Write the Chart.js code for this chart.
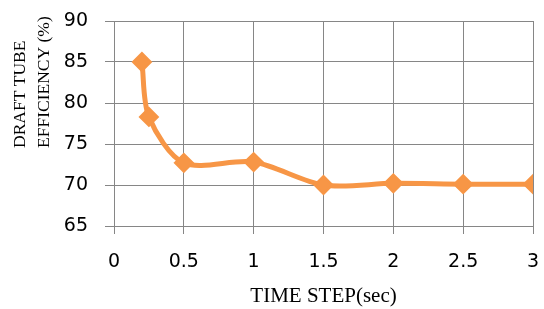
<!DOCTYPE html>
<html>
<head>
<meta charset="utf-8">
<script src="https://cdn.jsdelivr.net/npm/chart.js@4/dist/chart.umd.min.js"></script>
<style>
    html, body { margin: 0; padding: 0; background: #fff; }
    #box { width: 544px; height: 309px; }
</style>
</head>
<body>
<div id="box"><canvas id="myChart" width="544" height="309"></canvas></div>
<script>
// data
var timeStep = [0.2, 0.25, 0.5, 1, 1.5, 2, 2.5, 3];
var efficiency = [85, 78.3, 72.7, 72.8, 70.0, 70.2, 70.1, 70.1];
var xTicks = [0, 0.5, 1, 1.5, 2, 2.5, 3];
var yTicks = [65, 70, 75, 80, 85, 90];
var xTitle = "TIME STEP(sec)";
var yTitle = ["DRAFT TUBE", "EFFICIENCY (%)"];

var gridColor = "#868686";
var lineColor = "#F79646";

// y axis title drawn by hand so both lines start at the same height
var yTitlePlugin = {
    id: "yTitle",
    afterDraw: function (chart) {
        var ctx = chart.ctx;
        ctx.save();
        ctx.fillStyle = "#000";
        ctx.font = "17.5px 'Liberation Serif'";
        ctx.textAlign = "left";
        ctx.textBaseline = "middle";
        var xs = [20, 44];
        for (var i = 0; i < yTitle.length; i++) {
            ctx.save();
            ctx.translate(xs[i], 148);
            ctx.rotate(-Math.PI / 2);
            ctx.fillText(yTitle[i], 0, 0);
            ctx.restore();
        }
        ctx.restore();
    }
};

// no extra room for overflowing tick labels, layout padding does it
function noPad(axis) {
    axis.paddingTop = 0;
    axis.paddingBottom = 0;
    axis.paddingLeft = 0;
    axis.paddingRight = 0;
}

function setChart() {
    var points = [];
    for (var i = 0; i < timeStep.length; i++) {
        points.push({x: timeStep[i], y: efficiency[i]});
    }
    var ctx = document.getElementById("myChart");
    var chart = new Chart(ctx, {
        type: "scatter",
        data: {
            datasets: [{
                data: points,
                showLine: true,
                borderColor: lineColor,
                backgroundColor: lineColor,
                borderWidth: 5,
                tension: 0.3,
                pointStyle: "rectRot",
                pointRadius: 9,
                pointBorderWidth: 2,
                pointBorderColor: lineColor,
                pointBackgroundColor: lineColor
            }]
        },
        options: {
            responsive: false,
            animation: false,
            layout: { padding: { top: 21, right: 6, left: 0, bottom: 0 } },
            plugins: { legend: { display: false }, tooltip: { enabled: false } },
            scales: {
                x: {
                    type: "linear",
                    min: xTicks[0],
                    max: xTicks[xTicks.length - 1],
                    afterBuildTicks: function (axis) {
                        axis.ticks = xTicks.map(function (v) { return {value: v}; });
                    },
                    afterFit: function (axis) { axis.height = 83; noPad(axis); },
                    grid: { color: gridColor, lineWidth: 1, tickLength: 8, tickColor: gridColor },
                    border: { color: gridColor },
                    ticks: {
                        color: "#000",
                        padding: 17,
                        maxRotation: 0,
                        callback: function (v) { return String(v); },
                        font: { family: "'DejaVu Sans'", size: 19 }
                    },
                    title: {
                        display: true,
                        text: xTitle,
                        color: "#000",
                        padding: { top: 0, bottom: 0 },
                        font: { family: "'Liberation Serif'", size: 21 }
                    }
                },
                y: {
                    min: yTicks[0],
                    max: yTicks[yTicks.length - 1],
                    afterBuildTicks: function (axis) {
                        axis.ticks = yTicks.map(function (v) { return {value: v}; });
                    },
                    afterFit: function (axis) { axis.width = 114; noPad(axis); },
                    grid: { color: gridColor, lineWidth: 1, tickLength: 9, tickColor: gridColor },
                    border: { color: gridColor },
                    ticks: {
                        color: "#000",
                        padding: 17,
                        font: { family: "'DejaVu Sans'", size: 19 }
                    }
                }
            }
        },
        plugins: [yTitlePlugin]
    });
}

setChart();
</script>
</body>
</html>
